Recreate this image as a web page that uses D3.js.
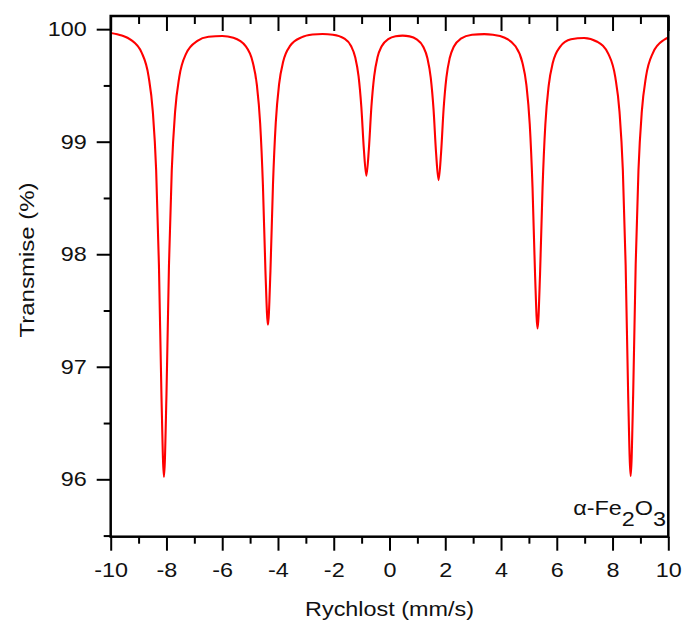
<!DOCTYPE html>
<html>
<head>
<meta charset="utf-8">
<script src="https://cdn.jsdelivr.net/npm/d3@7"></script>
<style>
  html, body { margin: 0; padding: 0; background: #fff; }
  svg { display: block; }
  text { font-family: "Liberation Sans", Arial, sans-serif; fill: #111; }
</style>
</head>
<body>
<script>
// ---- data ----
const velocity = [
  -10, -9.6, -9.29, -8.89, -8.64, -8.49, -8.37, -8.27, -8.18, -8.09,
  -8.00, -7.91, -7.81, -7.69, -7.54, -7.29, -6.89, -6.49, -6.0, -5.6,
  -5.16, -4.91, -4.76, -4.64, -4.54, -4.45, -4.36, -4.27, -4.18, -4.08,
  -3.96, -3.81, -3.56, -3.16, -2.76, -2.4, -2.03, -1.63, -1.38, -1.23,
  -1.11, -1.01, -0.92, -0.83, -0.74, -0.65, -0.55, -0.43, -0.28, -0.03,
  0.22, 0.47, 0.72, 0.96, 1.21, 1.36, 1.48, 1.58, 1.67, 1.76,
  1.85, 1.94, 2.04, 2.16, 2.31, 2.56, 2.96, 3.4, 3.71, 4.11,
  4.51, 4.76, 4.91, 5.03, 5.13, 5.22, 5.31, 5.40, 5.49, 5.59,
  5.71, 5.86, 6.11, 6.51, 6.98, 7.45, 7.85, 8.10, 8.25, 8.37,
  8.47, 8.56, 8.65, 8.74, 8.83, 8.93, 9.05, 9.20, 9.45, 9.85, 10
];
const transmission = [
  99.966, 99.943, 99.907, 99.791, 99.579, 99.270, 98.748, 97.905, 96.752, 96.022,
  96.750, 97.903, 98.745, 99.267, 99.575, 99.785, 99.896, 99.932, 99.939, 99.923,
  99.849, 99.711, 99.509, 99.166, 98.612, 97.853, 97.373, 97.854, 98.613, 99.167,
  99.511, 99.714, 99.853, 99.927, 99.952, 99.957, 99.951, 99.918, 99.850, 99.751,
  99.582, 99.308, 98.935, 98.699, 98.935, 99.308, 99.581, 99.750, 99.848, 99.914,
  99.937, 99.943, 99.936, 99.912, 99.844, 99.742, 99.568, 99.287, 98.902, 98.659,
  98.902, 99.288, 99.569, 99.743, 99.846, 99.915, 99.950, 99.956, 99.950, 99.926,
  99.850, 99.709, 99.504, 99.156, 98.594, 97.826, 97.340, 97.825, 98.592, 99.153,
  99.499, 99.703, 99.841, 99.910, 99.921, 99.888, 99.780, 99.571, 99.265, 98.745,
  97.905, 96.756, 96.029, 96.757, 97.907, 98.748, 99.269, 99.578, 99.790, 99.906, 99.926
];
const xMajorTicks = [-10, -8, -6, -4, -2, 0, 2, 4, 6, 8, 10];
const xMinorTicks = [-9, -7, -5, -3, -1, 1, 3, 5, 7, 9];
const yMajorTicks = [96, 97, 98, 99, 100];
const yMinorTicks = [95.5, 96.5, 97.5, 98.5, 99.5];
const xTitle = "Rychlost (mm/s)";
const yTitle = "Transmise (%)";

// ---- layout ----
const W = 684, H = 624;
const L = 110.7, R = 668.3, T = 16, B = 536.7;
const SX = 1.17; // horizontal stretch of the reference lettering

const svg = d3.select("body").append("svg").attr("width", W).attr("height", H);

const x = d3.scaleLinear().domain([-10, 10]).range([L, R]);
const y = d3.scaleLinear().domain([95.49, 100.117]).range([B, T]);

svg.append("defs").append("clipPath").attr("id", "plotclip")
  .append("rect").attr("x", L).attr("y", T).attr("width", R - L).attr("height", B - T);

// curve
const pts = velocity.map((v, i) => [v, transmission[i]]);
svg.append("path")
  .datum(pts)
  .attr("clip-path", "url(#plotclip)")
  .attr("fill", "none")
  .attr("stroke", "#ff0000")
  .attr("stroke-width", 2.1)
  .attr("stroke-linejoin", "round")
  .attr("d", d3.line().x(d => x(d[0])).y(d => y(d[1])).curve(d3.curveMonotoneX));

function styleAxis(g) {
  g.select(".domain").remove();
  g.selectAll(".tick line").attr("stroke", "#000").attr("stroke-width", 2);
  g.selectAll(".tick text").style("font-family", '"Liberation Sans", Arial, sans-serif')
    .style("font-size", "20px").attr("fill", "#111");
}
const fmt = d => String(d);

// bottom axis
const gb = svg.append("g").attr("transform", `translate(0,${B})`)
  .call(d3.axisBottom(x).tickValues(xMajorTicks).tickSize(14).tickPadding(12).tickFormat(fmt))
  .call(styleAxis);
gb.selectAll(".tick text").each(function () {
  const t = d3.select(this);
  const yy = +t.attr("y");
  t.attr("y", 0).attr("transform", `translate(0,${yy}) scale(${SX},1)`);
});
svg.append("g").attr("transform", `translate(0,${B})`)
  .call(d3.axisBottom(x).tickValues(xMinorTicks).tickSize(7).tickFormat(""))
  .call(styleAxis);
// top axis (inward ticks)
svg.append("g").attr("transform", `translate(0,${T})`)
  .call(d3.axisTop(x).tickValues(xMajorTicks).tickSize(-15).tickFormat(""))
  .call(styleAxis);
svg.append("g").attr("transform", `translate(0,${T})`)
  .call(d3.axisTop(x).tickValues(xMinorTicks).tickSize(-8).tickFormat(""))
  .call(styleAxis);
// left axis
const gl = svg.append("g").attr("transform", `translate(${L},0)`)
  .call(d3.axisLeft(y).tickValues(yMajorTicks).tickSize(14).tickPadding(10).tickFormat(fmt))
  .call(styleAxis);
gl.selectAll(".tick text").each(function () {
  const t = d3.select(this);
  const xx = +t.attr("x");
  t.attr("x", 0).attr("transform", `translate(${xx},0) scale(${SX},1)`);
});
svg.append("g").attr("transform", `translate(${L},0)`)
  .call(d3.axisLeft(y).tickValues(yMinorTicks).tickSize(7).tickFormat(""))
  .call(styleAxis);

// frame
svg.append("rect").attr("x", L).attr("y", T).attr("width", R - L).attr("height", B - T)
  .attr("fill", "none").attr("stroke", "#000").attr("stroke-width", 2.5);

// titles
svg.append("text")
  .attr("transform", `translate(${(L + R) / 2},616) scale(${SX},1)`)
  .attr("text-anchor", "middle")
  .style("font-size", "20px").text(xTitle);
svg.append("text")
  .attr("transform", `translate(34,260) rotate(-90) scale(${SX},1)`)
  .attr("text-anchor", "middle").style("font-size", "20.5px").text(yTitle);

// sample label
const lab = svg.append("text")
  .attr("transform", `translate(666,515) scale(${SX},1)`)
  .attr("text-anchor", "end")
  .style("font-size", "20px");
lab.append("tspan").text("α-Fe");
lab.append("tspan").attr("dy", 11).text("2");
lab.append("tspan").attr("dy", -11).text("O");
lab.append("tspan").attr("dy", 11).text("3");
</script>
</body>
</html>
